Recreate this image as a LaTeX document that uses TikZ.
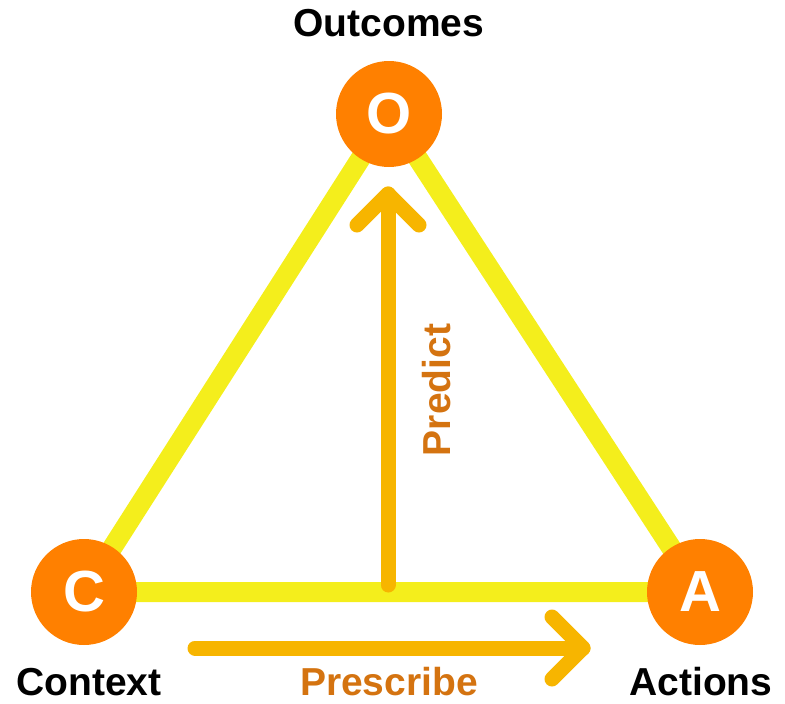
\documentclass[tikz,border=0pt]{standalone}
\usepackage{fontspec}
\setmainfont{Liberation Sans}
\usetikzlibrary{arrows.meta,positioning,backgrounds}
\definecolor{triyellow}{RGB}{244,238,28}
\definecolor{nodeorange}{RGB}{255,128,0}
\definecolor{arrowamber}{RGB}{247,181,0}
\definecolor{lblorange}{RGB}{212,115,16}
\tikzset{
  vertex/.style={circle, fill=nodeorange, minimum size=106pt, inner sep=0pt,
    text=white, font=\fontsize{58}{58}\selectfont\bfseries},
  edge/.style={triyellow, line width=20pt},
  flow/.style={arrowamber, line width=15pt, line cap=round, line join=round},
  caption/.style={font=\fontsize{39}{39}\selectfont\bfseries, inner sep=0pt, anchor=base},
  flowlbl/.style={caption, text=lblorange},
}

\begin{document}
\begin{tikzpicture}[x=1pt,y=-1pt]
\useasboundingbox (0,0) rectangle (785,704);

% ---------- vertices ----------
\node[vertex] (o) at (389,114) {O};
\node[vertex] (c) at (84,592)  {C};
\node[vertex] (a) at (700,592) {A};

% ---------- triangle ----------
\begin{scope}[on background layer]
  \draw[edge] (c.center) -- (o.center) -- (a.center) -- cycle;
\end{scope}

% ---------- captions ----------
\node[caption] (oc) at (389,36)  {Outcomes};
\node[caption] (cc) at (89,695)  {Context};
\node[caption] (ac) at (701,695) {Actions};

% ---------- flows ----------
\coordinate (pbase) at (388,585);
\coordinate (ptip)  at (388,194);
\coordinate (sbase) at (195,648);
\coordinate (stip)  at (583,648);
\draw[flow] (pbase) -- (ptip);
\draw[flow] ([shift={(-31,31)}]ptip) -- (ptip) -- ([shift={(31,31)}]ptip);
\draw[flow] (sbase) -- (stip);
\draw[flow] ([shift={(-31,-31)}]stip) -- (stip) -- ([shift={(-31,31)}]stip);

\node[flowlbl, rotate=90] (pl) at (450,390) {Predict};
\node[flowlbl] (sl) at (389,695) {Prescribe};

\end{tikzpicture}
\end{document}
